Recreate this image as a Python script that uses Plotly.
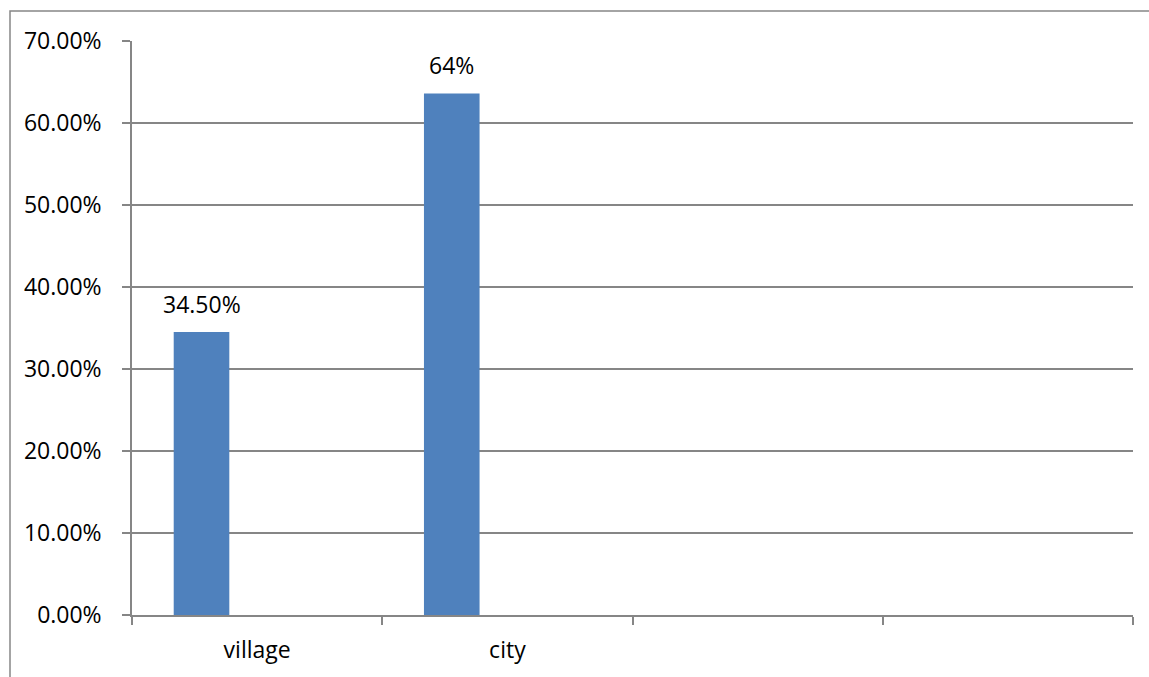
import plotly.graph_objects as go

categories = ["village", "city", " ", "  "]
values = [0.345, 0.636]
labels = ["34.50%", "64%"]
y_ticks = [0, 0.1, 0.2, 0.3, 0.4, 0.5, 0.6, 0.7]

W, H = 1149, 677
ml, mr, mt, mb = 132, 16, 41, 62
pw, ph = W - ml - mr, H - mt - mb

bar_w = 1 / 4.5
bar_off = -0.5 + 0.75 / 4.5
FONT = "Open Sans"
FS = 23

fig = go.Figure()
fig.add_trace(go.Bar(
    x=categories[:len(values)], y=values,
    marker=dict(color="#4F81BD", line=dict(width=0)),
    width=bar_w, offset=bar_off,
    showlegend=False, hoverinfo="y",
))

annotations = [
    dict(x=i + bar_off + bar_w / 2, y=v, xref="x", yref="y",
         text=t, showarrow=False, yanchor="bottom", xanchor="center",
         yshift=10, font=dict(family=FONT, size=FS, color="#000000"))
    for i, (v, t) in enumerate(zip(values, labels))
]

grid = "#868686"
fig.update_layout(
    width=W, height=H,
    margin=dict(l=ml, r=mr, t=mt, b=mb, pad=0),
    paper_bgcolor="white", plot_bgcolor="white",
    font=dict(family=FONT, size=FS, color="#000000"),
    xaxis=dict(
        type="category", categoryorder="array", categoryarray=categories,
        range=[-0.5, 3.5], tickson="boundaries",
        ticks="outside", ticklen=8, tickcolor=grid, tickwidth=1.5,
        showline=True, linecolor=grid, linewidth=1.5,
        showgrid=False, zeroline=False,
        tickfont=dict(family=FONT, size=FS, color="#000000"),
        ticklabelstandoff=14,
    ),
    yaxis=dict(
        range=[0, 0.7], tickvals=y_ticks, tickformat=".2%",
        ticks="outside", ticklen=8, tickcolor=grid, tickwidth=1.5,
        showline=True, linecolor=grid, linewidth=1.5,
        showgrid=True, gridcolor=grid, gridwidth=1.5,
        zeroline=False,
        tickfont=dict(family=FONT, size=FS, color="#000000"),
        ticklabelstandoff=16,
    ),
    annotations=annotations,
    shapes=[dict(
        type="rect", xref="paper", yref="paper",
        x0=(10 - ml) / pw, x1=1.2,
        y0=-0.3, y1=(H - mb - 11) / ph,
        line=dict(color=grid, width=1.5), fillcolor="rgba(0,0,0,0)",
        layer="below",
    )],
)

fig.write_html("out.html")
